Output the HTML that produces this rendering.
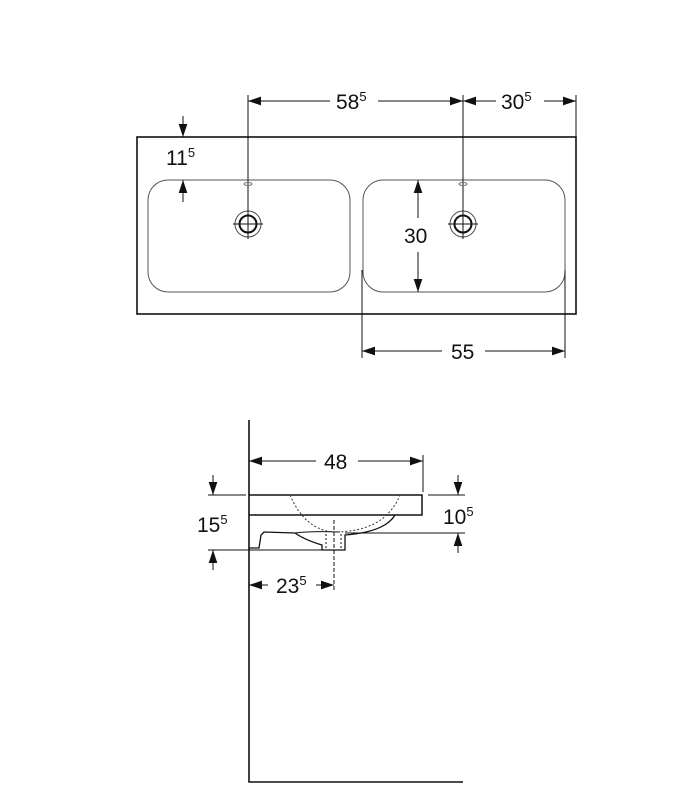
<!DOCTYPE html>
<html><head><meta charset="utf-8"><style>html,body{margin:0;padding:0;background:#fff}svg{display:block}text{font-family:"Liberation Sans",sans-serif;fill:#111}</style></head><body>
<svg width="700" height="800" viewBox="0 0 700 800" xmlns="http://www.w3.org/2000/svg">
<defs>
<marker id="a" viewBox="0 0 12 8" refX="12" refY="4" markerWidth="13" markerHeight="9" markerUnits="userSpaceOnUse" orient="auto-start-reverse"><path d="M0,0 L12,4 L0,8z" fill="#111"/></marker>
</defs>
<g stroke="#111" fill="none" stroke-width="1">
<rect x="137" y="137" width="439" height="177" stroke-width="1.6"/>
<rect x="148" y="180" width="202" height="112" rx="20" stroke="#555"/>
<rect x="363" y="180" width="202" height="112" rx="20" stroke="#555"/>
<circle cx="248" cy="224" r="13" stroke="#444"/>
<circle cx="248" cy="224" r="8.5" stroke-width="2"/>
<line x1="233" y1="224" x2="263" y2="224"/>
<line x1="248" y1="95" x2="248" y2="239"/>
<circle cx="463" cy="224" r="13" stroke="#444"/>
<circle cx="463" cy="224" r="8.5" stroke-width="2"/>
<line x1="448" y1="224" x2="478" y2="224"/>
<line x1="463" y1="95" x2="463" y2="239"/>
<ellipse cx="248" cy="184" rx="4" ry="1.5" stroke="#777"/>
<ellipse cx="463" cy="184" rx="4" ry="1.5" stroke="#777"/>
<line x1="576" y1="95" x2="576" y2="160"/>
<line x1="248" y1="101" x2="330" y2="101" marker-start="url(#a)"/>
<line x1="378" y1="101" x2="463" y2="101" marker-end="url(#a)"/>
<line x1="463" y1="101" x2="496" y2="101" marker-start="url(#a)"/>
<line x1="544" y1="101" x2="576" y2="101" marker-end="url(#a)"/>
<line x1="183" y1="116" x2="183" y2="137" marker-end="url(#a)"/>
<line x1="183" y1="202" x2="183" y2="180" marker-end="url(#a)"/>
<line x1="418" y1="180" x2="418" y2="218" marker-start="url(#a)"/>
<line x1="418" y1="252" x2="418" y2="292" marker-end="url(#a)"/>
<line x1="362" y1="270" x2="362" y2="358"/>
<line x1="565" y1="270" x2="565" y2="358"/>
<line x1="362" y1="351" x2="442" y2="351" marker-start="url(#a)"/>
<line x1="485" y1="351" x2="565" y2="351" marker-end="url(#a)"/>
<!-- side view -->
<polyline points="249,420 249,782 463,782" stroke-width="1.6"/>
<path d="M249,495 L422,495 L422,515 L249,515" stroke-width="1.5"/>
<path d="M249,548 L259,548 L261,535 L264,532 L295,533 Q305,540 322,545 L322,550 L345,550 L345,535 Q385,532 395,515" stroke-width="1.3"/>
<path d="M295,533 Q310,531 340,532" stroke-width="1"/>
<path d="M290,495 Q305,530 334,532 Q385,532 400,495" stroke-dasharray="2,2" stroke="#333"/>
<line x1="326" y1="534" x2="326" y2="549" stroke-dasharray="2,2"/>
<line x1="341" y1="534" x2="341" y2="549" stroke-dasharray="2,2"/>
<line x1="334" y1="520" x2="334" y2="592" stroke-dasharray="4,2"/>
<line x1="423" y1="455" x2="423" y2="492"/>
<line x1="249" y1="461" x2="316" y2="461" marker-start="url(#a)"/>
<line x1="358" y1="461" x2="423" y2="461" marker-end="url(#a)"/>
<line x1="208" y1="495" x2="246" y2="495"/>
<line x1="208" y1="550" x2="322" y2="550"/>
<line x1="213" y1="475" x2="213" y2="495" marker-end="url(#a)"/>
<line x1="213" y1="570" x2="213" y2="550" marker-end="url(#a)"/>
<line x1="428" y1="495" x2="465" y2="495"/>
<line x1="345" y1="533" x2="465" y2="533"/>
<line x1="458" y1="475" x2="458" y2="495" marker-end="url(#a)"/>
<line x1="458" y1="553" x2="458" y2="533" marker-end="url(#a)"/>
<line x1="249" y1="585" x2="268" y2="585" marker-start="url(#a)"/>
<line x1="316" y1="585" x2="334" y2="585" marker-end="url(#a)"/>
</g>
<g font-size="21">
<text x="336" y="109">58<tspan font-size="13" dy="-8">5</tspan></text>
<text x="501" y="109">30<tspan font-size="13" dy="-8">5</tspan></text>
<text x="166" y="165">11<tspan font-size="13" dy="-8">5</tspan></text>
<text x="404" y="243">30</text>
<text x="451" y="359">55</text>
<text x="324" y="469">48</text>
<text x="197" y="532">15<tspan font-size="13" dy="-8">5</tspan></text>
<text x="443" y="524">10<tspan font-size="13" dy="-8">5</tspan></text>
<text x="276" y="593">23<tspan font-size="13" dy="-8">5</tspan></text>
</g>
</svg>
</body></html>
